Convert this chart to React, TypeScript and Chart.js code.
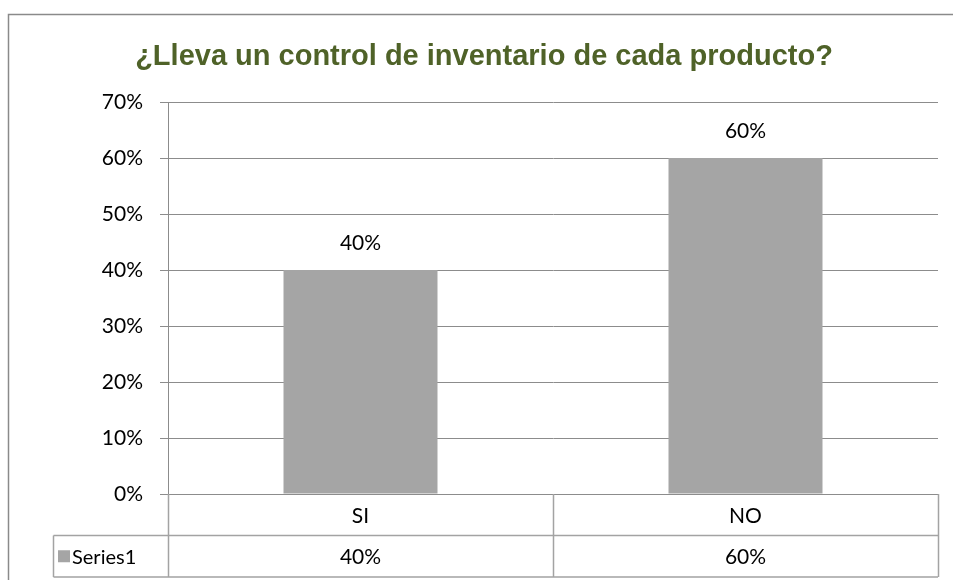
import React, { useEffect, useRef } from "react";
import { Chart, registerables } from "chart.js";

Chart.register(...registerables);

const title = "¿Lleva un control de inventario de cada producto?";
const categories = ["SI", "NO"];
const seriesName = "Series1";
const values = [40, 60];
const yTicks = [0, 10, 20, 30, 40, 50, 60, 70];

const FONT = "Lato, 'Open Sans', sans-serif";
const BAR = "#a5a5a5";
const GRID = "#8c8c8c";
const TABLE = "#a3a3a3";

const overlay = {
  id: "overlay",
  afterDraw(chart: any) {
    const ctx = chart.ctx as CanvasRenderingContext2D;
    const x = chart.scales.x;
    const area = chart.chartArea;
    ctx.save();
    // outer frame
    ctx.strokeStyle = "#8a8a8a";
    ctx.lineWidth = 1.5;
    ctx.beginPath();
    ctx.moveTo(8.5, 600);
    ctx.lineTo(8.5, 14.5);
    ctx.lineTo(960, 14.5);
    ctx.stroke();

    // title
    ctx.fillStyle = "#4f6228";
    ctx.font = "bold 29px 'Liberation Sans', Arial, sans-serif";
    ctx.textAlign = "center";
    ctx.textBaseline = "middle";
    ctx.fillText(title, 484, 57);

    // data labels
    ctx.fillStyle = "#000";
    ctx.font = `21px ${FONT}`;
    ctx.textAlign = "center";
    ctx.textBaseline = "middle";
    const meta = chart.getDatasetMeta(0);
    meta.data.forEach((bar: any, i: number) => {
      ctx.fillText(values[i] + "%", bar.x, bar.y - 27);
    });

    // data table
    const top = area.bottom;
    const rowH = 41.5;
    const mid = top + rowH;
    const bot = top + 2 * rowH;
    const first = x.getPixelForValue(0);
    const second = x.getPixelForValue(1);
    const half = (second - first) / 2;
    const bounds = [first - half, first + half, second + half];
    ctx.strokeStyle = TABLE;
    ctx.lineWidth = 1.5;
    ctx.beginPath();
    bounds.forEach((bx) => {
      ctx.moveTo(Math.round(bx) + 0.5, top);
      ctx.lineTo(Math.round(bx) + 0.5, bot);
    });
    ctx.moveTo(53.5, mid);
    ctx.lineTo(bounds[2], mid);
    ctx.moveTo(53.5, bot);
    ctx.lineTo(bounds[2], bot);
    ctx.moveTo(53.5, mid);
    ctx.lineTo(53.5, bot);
    ctx.stroke();

    ctx.fillStyle = "#000";
    categories.forEach((c, i) => {
      const cx = x.getPixelForValue(i);
      ctx.fillText(c, cx, top + rowH / 2 + 1);
      ctx.fillText(values[i] + "%", cx, mid + rowH / 2 + 1);
    });
    // legend key + series name
    ctx.fillStyle = BAR;
    ctx.fillRect(58, mid + rowH / 2 - 6, 12, 12);
    ctx.fillStyle = "#000";
    ctx.textAlign = "left";
    ctx.font = `20px ${FONT}`;
    ctx.fillText(seriesName, 72, mid + rowH / 2 + 1);
    ctx.restore();
  },
};

export default function App() {
  const ref = useRef<HTMLCanvasElement>(null);
  useEffect(() => {
    if (!ref.current) return;
    const chart = new Chart(ref.current, {
      type: "bar",
      data: {
        labels: categories,
        datasets: [
          {
            label: seriesName,
            data: values,
            backgroundColor: BAR,
            borderWidth: 0,
            barPercentage: 0.4,
            categoryPercentage: 1,
          },
        ],
      },
      options: {
        responsive: false,
        animation: false,
        layout: { padding: { top: 102, right: 15, bottom: 86, left: 0 } },
        plugins: {
          legend: { display: false },
          title: { display: false },
          tooltip: { enabled: false },
        },
        scales: {
          x: {
            display: false,
            grid: { display: false },
          },
          y: {
            min: 0,
            max: 70,
            afterFit: (s: any) => {
              s.width = 168;
            },
            afterBuildTicks: (s: any) => {
              s.ticks = yTicks.map((v) => ({ value: v }));
            },
            border: { color: GRID, width: 1 },
            grid: {
              color: GRID,
              lineWidth: 1,
              tickLength: 8,
              drawTicks: true,
            },
            ticks: {
              color: "#000",
              padding: 17,
              font: { family: FONT, size: 21 },
              callback: (v: any) => v + "%",
            },
          },
        },
      },
      plugins: [overlay],
    });
    return () => chart.destroy();
  }, []);
  return (
    <div style={{ position: "fixed", left: 0, top: 0, width: 953, height: 580, background: "#fff" }}>
      <canvas ref={ref} width={953} height={580} style={{ display: "block" }} />
    </div>
  );
}
